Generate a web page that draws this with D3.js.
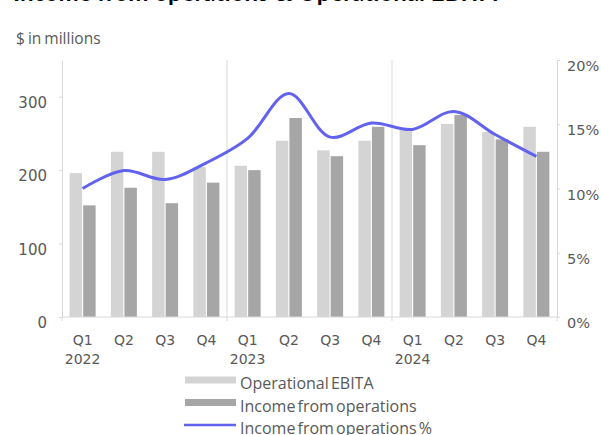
<!DOCTYPE html>
<html>
<head>
<meta charset="utf-8">
<script src="https://cdn.jsdelivr.net/npm/d3@7"></script>
<style>
  body { margin: 0; background: #fff; }
  svg { display: block; }
</style>
</head>
<body>
<div id="chart"></div>
<script>
// values
var quarters = ["Q1", "Q2", "Q3", "Q4", "Q1", "Q2", "Q3", "Q4", "Q1", "Q2", "Q3", "Q4"]
var years = ["2022", "2023", "2024"]
var ebita = [196, 225, 225, 204, 206, 240, 227, 240, 257, 263, 252, 259]
var income = [152, 176, 155, 183, 200, 271, 219, 259, 234, 275, 242, 225]
var incomePct = [10.0, 11.4, 10.7, 12.0, 13.9, 17.4, 14.0, 15.1, 14.6, 16.0, 14.2, 12.5]
var leftTicks = [0, 100, 200, 300]
var rightTicks = [0, 5, 10, 15, 20]

var width = 601
var height = 435
var margin = {top: 60, right: 44, bottom: 118, left: 62}

var svg = d3.select("#chart")
  .append("svg")
    .attr("width", width)
    .attr("height", height)

var keys = quarters.map(function(q, i){ return years[Math.floor(i / 4)] + " " + q })

var x0 = d3.scaleBand()
  .domain(keys)
  .range([margin.left, width - margin.right])
  .paddingInner(0.37)
  .paddingOuter(0.185)

var x1 = d3.scaleBand()
  .domain(["ebita", "income"])
  .range([0, x0.bandwidth()])
  .paddingInner(0.08)

var y = d3.scaleLinear()
  .domain([0, 350])
  .range([height - margin.bottom, margin.top])

var yPct = d3.scaleLinear()
  .domain([0, 20])
  .range([height - margin.bottom, margin.top])

var lineCol = "#d9d9d9"
var textCol = "#595959"

// title, mostly cut off at the top edge (as in the source)
svg.append("text")
  .attr("x", 13)
  .attr("y", 1)
  .style("font-family", "Lato")
  .style("font-weight", "bold")
  .style("font-size", "24px")
  .style("fill", "#000")
  .text("Income from operations & Operational EBITA")

svg.append("text")
  .attr("x", 16)
  .attr("y", 44)
  .style("font-family", "Open Sans")
  .style("font-size", "15.5px")
  .style("word-spacing", "-1px")
  .style("fill", textCol)
  .text("$ in millions")

// year separators
var bottomY = height - margin.bottom
var step = x0.step()
var seps = [1, 2].map(function(k){ return margin.left + k * 4 * step })
svg.append("g")
  .selectAll("line")
  .data(seps)
  .enter()
  .append("line")
    .attr("x1", function(d){ return d })
    .attr("x2", function(d){ return d })
    .attr("y1", margin.top)
    .attr("y2", bottomY + 4)
    .attr("stroke", lineCol)

// bars
var groups = svg.append("g")
  .selectAll("g")
  .data(keys)
  .enter()
  .append("g")
    .attr("transform", function(d){ return "translate(" + x0(d) + ",0)" })

groups.append("rect")
  .attr("x", x1("ebita"))
  .attr("width", x1.bandwidth())
  .attr("y", function(d, i){ return y(ebita[i]) })
  .attr("height", function(d, i){ return y(0) - y(ebita[i]) })
  .attr("fill", "#d4d4d4")

groups.append("rect")
  .attr("x", x1("income"))
  .attr("width", x1.bandwidth())
  .attr("y", function(d, i){ return y(income[i]) })
  .attr("height", function(d, i){ return y(0) - y(income[i]) })
  .attr("fill", "#a6a6a6")

// baseline with ticks at the ends
svg.append("line")
  .attr("x1", margin.left)
  .attr("x2", width - margin.right)
  .attr("y1", bottomY)
  .attr("y2", bottomY)
  .attr("stroke", lineCol)
svg.append("g")
  .selectAll("line")
  .data([margin.left, width - margin.right])
  .enter()
  .append("line")
    .attr("x1", function(d){ return d })
    .attr("x2", function(d){ return d })
    .attr("y1", bottomY)
    .attr("y2", bottomY + 4)
    .attr("stroke", lineCol)

// left axis
var yAxis = svg.append("g")
  .attr("transform", "translate(" + margin.left + ",0)")
  .call(d3.axisLeft(y).tickValues(leftTicks).tickSize(3).tickSizeOuter(0).tickPadding(12))
yAxis.select(".domain").attr("stroke", lineCol)
yAxis.selectAll(".tick line").attr("stroke", lineCol)
yAxis.selectAll("text")
  .attr("y", 6)
  .style("font-family", "DejaVu Sans")
  .style("font-size", "15px")
  .style("fill", textCol)

// right axis
var rAxis = svg.append("g")
  .attr("transform", "translate(" + (width - margin.right) + ",0)")
  .call(d3.axisRight(yPct).tickValues(rightTicks).tickSize(3).tickSizeOuter(0).tickPadding(7)
    .tickFormat(function(d){ return d + "%" }))
rAxis.select(".domain").attr("stroke", lineCol)
rAxis.selectAll(".tick line").attr("stroke", lineCol)
rAxis.selectAll("text")
  .attr("y", 6)
  .style("font-family", "DejaVu Sans")
  .style("font-size", "14.5px")
  .style("fill", textCol)

// category labels
svg.append("g")
  .selectAll("text")
  .data(keys)
  .enter()
  .append("text")
    .attr("x", function(d){ return x0(d) + x0.bandwidth() / 2 })
    .attr("y", bottomY + 28)
    .attr("text-anchor", "middle")
    .style("font-family", "DejaVu Sans")
    .style("font-size", "14px")
    .style("fill", textCol)
    .text(function(d, i){ return quarters[i] })

svg.append("g")
  .selectAll("text")
  .data(years)
  .enter()
  .append("text")
    .attr("x", function(d, i){ return x0(keys[i * 4]) + x0.bandwidth() / 2 })
    .attr("y", bottomY + 47)
    .attr("text-anchor", "middle")
    .style("font-family", "DejaVu Sans")
    .style("font-size", "14px")
    .style("fill", textCol)
    .text(function(d){ return d })

// percent line
var line = d3.line()
  .x(function(d, i){ return x0(keys[i]) + x0.bandwidth() / 2 })
  .y(function(d){ return yPct(d) })
  .curve(d3.curveCatmullRom.alpha(0.5))

svg.append("path")
  .datum(incomePct)
  .attr("d", line)
  .attr("fill", "none")
  .attr("stroke", "#6262ee")
  .attr("stroke-width", 3)

// legend
var legendItems = [
  {label: "Operational EBITA", color: "#d4d4d4", kind: "bar"},
  {label: "Income from operations", color: "#a6a6a6", kind: "bar"},
  {label: "Income from operations %", color: "#6262ee", kind: "line"}
]
var legend = svg.append("g")
  .selectAll("g")
  .data(legendItems)
  .enter()
  .append("g")
    .attr("transform", function(d, i){ return "translate(184," + (380 + i * 22.5) + ")" })

legend.filter(function(d){ return d.kind == "bar" })
  .append("rect")
    .attr("x", 1)
    .attr("y", -3.5)
    .attr("width", 51)
    .attr("height", 7)
    .attr("fill", function(d){ return d.color })

legend.filter(function(d){ return d.kind == "line" })
  .append("line")
    .attr("x1", 0)
    .attr("x2", 52)
    .attr("y1", 0)
    .attr("y2", 0)
    .attr("stroke", function(d){ return d.color })
    .attr("stroke-width", 2.5)

legend.append("text")
  .attr("x", 56)
  .attr("y", 9)
  .style("font-family", "Open Sans")
  .style("font-size", "16px")
  .style("word-spacing", "-2px")
  .style("fill", textCol)
  .text(function(d){ return d.label })
</script>
</body>
</html>
